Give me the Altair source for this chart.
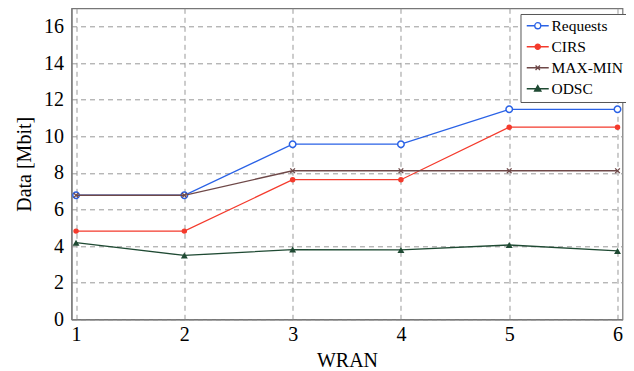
import altair as alt
import pandas as pd

wran = [1, 2, 3, 4, 5, 6]
series_names = ["Requests", "CIRS", "MAX-MIN", "ODSC"]
requests = [6.78, 6.78, 9.57, 9.57, 11.48, 11.48]
cirs = [4.82, 4.82, 7.63, 7.63, 10.5, 10.5]
maxmin = [6.78, 6.78, 8.12, 8.12, 8.12, 8.12]
odsc = [4.19, 3.49, 3.81, 3.79, 4.06, 3.74]
colors = ["#2a62e6", "#f43a2c", "#6e4848", "#1f4a33"]

values = {"Requests": requests, "CIRS": cirs, "MAX-MIN": maxmin, "ODSC": odsc}
rows = []
for s in series_names:
    for x, v in zip(wran, values[s]):
        rows.append({"WRAN": x, "value": v, "series": s})
df = pd.DataFrame(rows)

xpath = "M-1,-1L1,1M-1,1L1,-1"
point_styles = {
    "Requests": dict(shape="circle", filled=False, fill="white", size=42, strokeWidth=1.5),
    "CIRS": dict(shape="circle", filled=True, size=30),
    "MAX-MIN": dict(shape=xpath, filled=False, size=22, strokeWidth=1.3),
    "ODSC": dict(shape="triangle-up", filled=True, size=48),
}

# legend symbol paths: line from -1 to 3 (22px with size 121), marker at 1
legend_shape = (
    "datum.value === 'Requests' ? 'M-1,0H0.45M1.55,0H3M0.45,0A0.55,0.55,0,1,0,1.55,0A0.55,0.55,0,1,0,0.45,0' : "
    "datum.value === 'CIRS' ? 'M-1,0H3M0.52,0A0.48,0.48,0,1,0,1.48,0A0.48,0.48,0,1,0,0.52,0' : "
    "datum.value === 'MAX-MIN' ? 'M-1,0H3M0.6,-0.4L1.4,0.4M0.6,0.4L1.4,-0.4' : "
    "'M-1,0H3M0.42,0.42L1,-0.6L1.58,0.42Z'"
)
legend_fill = (
    "datum.value === 'Requests' ? '#ffffff' : "
    "datum.value === 'CIRS' ? '" + colors[1] + "' : "
    "datum.value === 'MAX-MIN' ? 'transparent' : '" + colors[3] + "'"
)

color_enc = alt.Color(
    "series:N",
    scale=alt.Scale(domain=series_names, range=colors),
    legend=alt.Legend(
        title=None,
        orient="none",
        legendX=449,
        legendY=5.7,
        symbolType={"expr": legend_shape},
        symbolFillColor={"expr": legend_fill},
        symbolSize=121,
        symbolStrokeWidth=1.3,
        symbolOpacity=1,
        labelFont="Liberation Serif",
        labelFontSize=15.5,
        labelColor="black",
        labelOffset=11.5,
        rowPadding=4,
        padding=4,
        strokeColor="#555555",
        fillColor="white",
    ),
)

x_enc = alt.X(
    "WRAN:Q",
    scale=alt.Scale(domain=[0.958, 6.046], nice=False, zero=False),
    axis=alt.Axis(values=wran, format="d", title="WRAN", labelPadding=5, titlePadding=6),
)
y_enc = alt.Y(
    "value:Q",
    scale=alt.Scale(domain=[0, 17], nice=False),
    axis=alt.Axis(values=[0, 2, 4, 6, 8, 10, 12, 14, 16], title="Data [Mbit]", labelPadding=8, titlePadding=9),
)

layers = []
for s, c in zip(series_names, colors):
    sub = alt.Chart(df).transform_filter(alt.datum.series == s)
    layers.append(sub.mark_line(strokeWidth=1.3).encode(x=x_enc, y=y_enc, color=color_enc))
    layers.append(sub.mark_point(color=c, opacity=1, **point_styles[s]).encode(x=x_enc, y=y_enc))

chart = (
    alt.layer(*layers)
    .properties(
        width=551,
        height=311,
        autosize=alt.AutoSizeParams(type="none"),
        padding={"left": 63.5, "top": 0.3, "right": 3.5, "bottom": 52},
    )
    .configure_view(stroke="#777777", strokeWidth=1.2)
    .configure_legend(labelFont="Liberation Serif", labelFontSize=15.5, labelColor="black")
    .configure_axis(
        labelFont="Liberation Serif",
        titleFont="Liberation Serif",
        labelFontSize=20,
        titleFontSize=20,
        titleFontWeight="normal",
        labelColor="black",
        titleColor="black",
        domainColor="#777777",
        domainWidth=1.2,
        ticks=False,
        grid=True,
        gridColor="#999999",
        gridDash=[5, 4],
        gridWidth=1,
    )
)

chart.save("out.html", embed_options={"renderer": "svg", "actions": False})
